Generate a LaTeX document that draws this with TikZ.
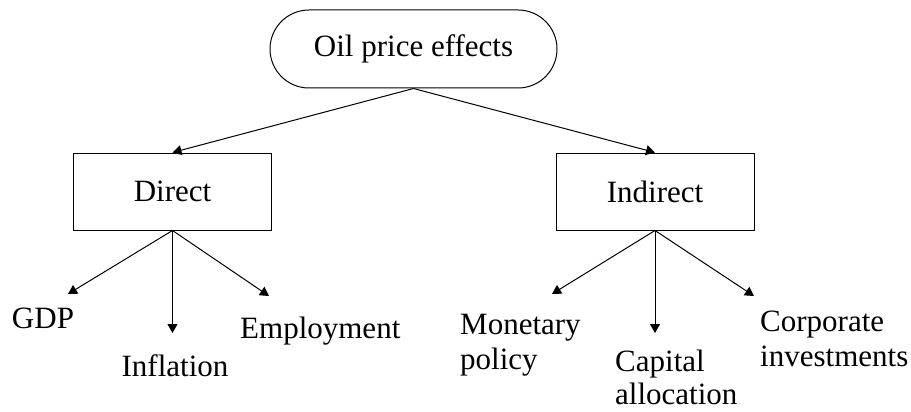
\documentclass[tikz,border=0pt]{standalone}
\usepackage{fontspec}
\setmainfont{Liberation Serif}
\usetikzlibrary{arrows.meta}
\begin{document}
\begin{tikzpicture}[x=1pt,y=-1pt,
  txt/.style={font=\fontsize{31}{35}\selectfont, inner sep=0pt},
  pill/.style={draw, line width=1pt, rounded corners=39pt, minimum width=287pt, minimum height=78pt, txt},
  box/.style={draw, line width=1pt, minimum width=198pt, minimum height=77pt, txt},
  arr/.style={-{Triangle[width=10pt,length=9pt]}, line width=1pt}]
\useasboundingbox (0,0) rectangle (911,412);
% main nodes
\node[pill] (top) at (413.5,49) {Oil price effects};
\node[box] (d) at (172.5,191.5) {Direct};
\node[box] (i) at (655,191.5) {Indirect};
% leaf labels
\node[txt, anchor=base] (gdp) at (43,328) {GDP};
\node[txt, anchor=base] (infl) at (175,376) {Inflation};
\node[txt, anchor=base west] (emp) at (240,338) {Employment};
\node[txt, anchor=base west, align=left] (mon) at (460,369) {Monetary\\policy};
\node[txt, anchor=base west, align=left, font=\fontsize{31}{33}\selectfont] (cap) at (615,404) {Capital\\allocation};
\node[txt, anchor=base west, align=left] (corp) at (760,366) {Corporate\\investments};
% arrow tips
\coordinate (gdpT) at (68,294);
\coordinate (inflT) at (172.5,333);
\coordinate (empT) at (269,296);
\coordinate (monT) at (552,294);
\coordinate (capT) at (655,333);
\coordinate (corpT) at (754,296);
% connectors
\draw[arr] (top.south) -- (d.north);
\draw[arr] (top.south) -- (i.north);
\draw[arr] (d.south) -- (gdpT);
\draw[arr] (d.south) -- (inflT);
\draw[arr] (d.south) -- (empT);
\draw[arr] (i.south) -- (monT);
\draw[arr] (i.south) -- (capT);
\draw[arr] (i.south) -- (corpT);
\end{tikzpicture}
\end{document}
